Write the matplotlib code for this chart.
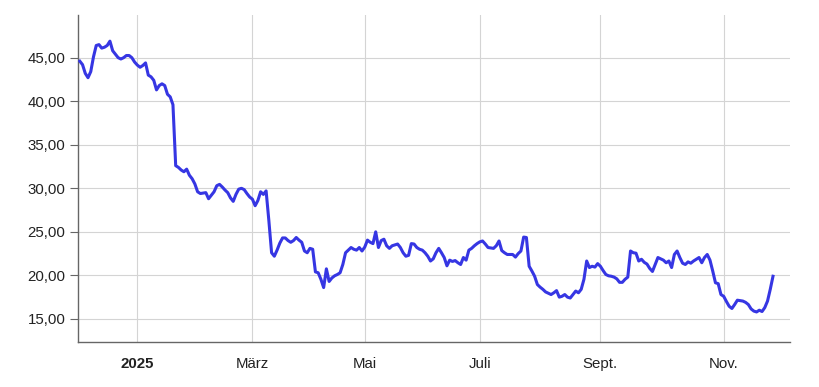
import matplotlib
matplotlib.use("Agg")
import matplotlib.pyplot as plt
import pandas as pd

# Xetra closing days inside the chart window
holidays = [
    "2024-12-24", "2024-12-25", "2024-12-26", "2024-12-31",
    "2025-01-01", "2025-04-18", "2025-04-21", "2025-05-01",
]
start_date = "2024-11-27"
end_date = "2025-11-27"

# closing prices, one per trading day
prices = [
    44.6, 44.2, 43.2, 42.7, 43.4, 45.1, 46.4, 46.5, 46.1, 46.2,
    46.4, 46.9, 45.8, 45.4, 45.0, 44.85, 45.0, 45.25, 45.25, 45.0,
    44.5, 44.15, 43.9, 44.1, 44.4, 43.0, 42.8, 42.4, 41.3, 41.8,
    42.0, 41.8, 40.8, 40.5, 39.6, 32.6, 32.4, 32.1, 31.9, 32.2,
    31.5, 31.1, 30.5, 29.6, 29.4, 29.45, 29.5, 28.8, 29.2, 29.6,
    30.3, 30.45, 30.15, 29.8, 29.5, 28.9, 28.5, 29.3, 29.9, 30.0,
    29.85, 29.4, 29.0, 28.75, 28.0, 28.6, 29.6, 29.3, 29.7, 26.3,
    22.6, 22.2, 22.9, 23.7, 24.3, 24.3, 24.0, 23.8, 24.0, 24.35,
    24.05, 23.8, 22.8, 22.6, 23.1, 23.0, 20.4, 20.3, 19.55, 18.6,
    20.75, 19.3, 19.7, 19.95, 20.1, 20.3, 21.25, 22.6, 22.9, 23.2,
    23.0, 22.9, 23.2, 22.8, 23.25, 24.05, 23.8, 23.65, 25.0, 23.2,
    24.0, 24.15, 23.4, 23.1, 23.4, 23.5, 23.6, 23.2, 22.6, 22.2,
    22.3, 23.65, 23.6, 23.2, 23.0, 22.9, 22.6, 22.2, 21.65, 21.9,
    22.6, 23.1, 22.6, 22.05, 21.1, 21.75, 21.6, 21.7, 21.45, 21.25,
    22.05, 21.75, 22.9, 23.1, 23.4, 23.65, 23.85, 23.95, 23.6, 23.2,
    23.15, 23.1, 23.4, 23.95, 22.85, 22.6, 22.4, 22.4, 22.4, 22.1,
    22.5, 22.8, 24.4, 24.35, 21.05, 20.5, 19.9, 18.95, 18.65, 18.4,
    18.1, 17.95, 17.8, 18.0, 18.25, 17.5, 17.6, 17.8, 17.5, 17.4,
    17.8, 18.2, 18.0, 18.4, 19.55, 21.65, 20.9, 21.05, 20.95, 21.35,
    21.05, 20.55, 20.1, 19.95, 19.9, 19.8, 19.6, 19.2, 19.2, 19.55,
    19.8, 22.8, 22.6, 22.55, 21.65, 21.85, 21.5, 21.3, 20.8, 20.45,
    21.25, 22.05, 21.9, 21.75, 21.45, 21.65, 20.9, 22.4, 22.8, 22.05,
    21.4, 21.25, 21.55, 21.4, 21.65, 21.85, 22.05, 21.45, 22.05, 22.4,
    21.75, 20.5, 19.15, 19.05, 17.8, 17.6, 17.0, 16.45, 16.2, 16.65,
    17.15, 17.1, 17.05, 16.9, 16.65, 16.15, 15.9, 15.8, 16.0, 15.85,
    16.3, 17.05, 18.4, 19.9,
]

tick_months = ["2025-01", "2025-03", "2025-05", "2025-07", "2025-09", "2025-11"]
tick_labels = ["2025", "März", "Mai", "Juli", "Sept.", "Nov."]
y_ticks = [15, 20, 25, 30, 35, 40, 45]

days = pd.bdate_range(start_date, end_date, freq="C", holidays=holidays)
days = days[: len(prices)]
pos = list(range(len(days)))

# x axis runs on trading sessions, ticks sit on the first session of a month
month_of = days.strftime("%Y-%m")
tick_pos = [int((month_of == m).argmax()) for m in tick_months]

plt.rcParams["font.family"] = ["Liberation Sans", "DejaVu Sans"]

fig = plt.figure(figsize=(8.2, 3.87), dpi=100)
ax = fig.add_axes([0.0951, 0.1163, 0.8683, 0.8449])

ax.plot(pos, prices, color="#3636e3", linewidth=2.2, solid_joinstyle="round", zorder=3)

ax.set_xlim(-0.66, 259.2)
ax.set_ylim(12.35, 49.9)

ax.set_yticks(y_ticks)
ax.set_yticklabels([f"{v:.2f}".replace(".", ",") for v in y_ticks])
ax.set_xticks(tick_pos)
ax.set_xticklabels(tick_labels)
ax.get_xticklabels()[0].set_fontweight("bold")

ax.grid(True, color="#d4d4d4", linewidth=0.8, zorder=0)
ax.tick_params(axis="y", length=5.5, width=0.8, color="#666666", pad=3.5,
               labelsize=10.8, labelcolor="#222222")
ax.tick_params(axis="x", length=0, pad=10.5, labelsize=10.8, labelcolor="#222222")

for side in ("top", "right"):
    ax.spines[side].set_visible(False)
for side in ("left", "bottom"):
    ax.spines[side].set_color("#666666")
    ax.spines[side].set_linewidth(1.0)

plt.savefig("out.png", dpi=100)
plt.close()
